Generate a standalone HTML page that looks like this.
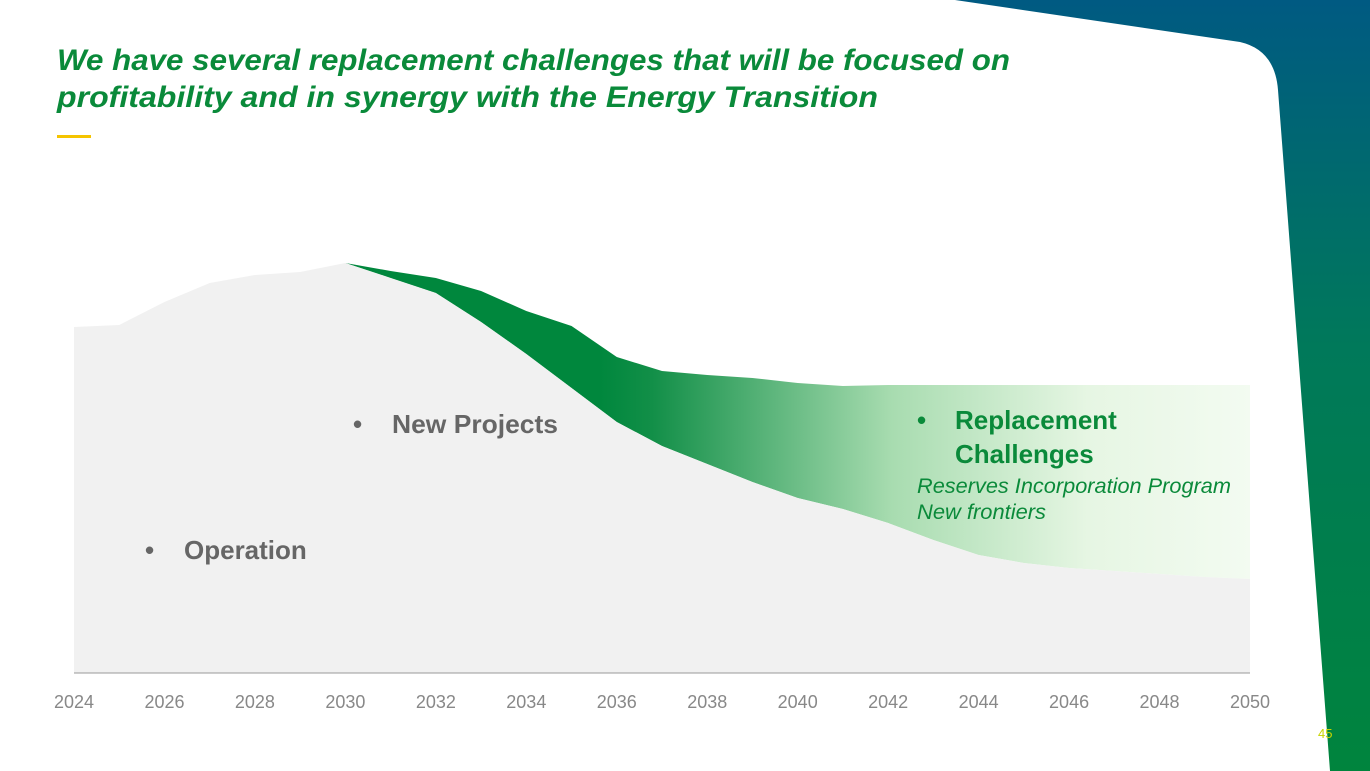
<!DOCTYPE html>
<html><head><meta charset="utf-8"><style>
body{margin:0;width:1370px;height:771px;overflow:hidden;background:#fff;font-family:"Liberation Sans",sans-serif}
svg{position:absolute;left:0;top:0}
</style></head><body>
<svg width="1370" height="771">
<defs>
<linearGradient id="bg" x1="0" y1="0" x2="0" y2="1">
<stop offset="0" stop-color="#005a82"/><stop offset="0.45" stop-color="#00795a"/><stop offset="1" stop-color="#00843d"/></linearGradient>
<linearGradient id="band" gradientUnits="userSpaceOnUse" x1="600" y1="0" x2="1250" y2="0">
<stop offset="0" stop-color="#00873d"/><stop offset="0.08" stop-color="#128f48"/><stop offset="0.45" stop-color="#a8dcb0"/><stop offset="0.75" stop-color="#e6f6e3"/><stop offset="1" stop-color="#f3fbf1"/></linearGradient>
</defs>
<rect x="0" y="0" width="1370" height="771" fill="url(#bg)"/>
<path d="M0,0 L955,0 L1240,42 Q1275,50 1278,90 L1330,771 L0,771 Z" fill="#fff"/>
<g id="chart"></g>
<text x="57" y="70" font-size="30" font-weight="bold" font-style="italic" fill="#0a8a3a" textLength="953" lengthAdjust="spacingAndGlyphs">We have several replacement challenges that will be focused on</text>
<text x="57" y="107" font-size="30" font-weight="bold" font-style="italic" fill="#0a8a3a" textLength="821" lengthAdjust="spacingAndGlyphs">profitability and in synergy with the Energy Transition</text>
<rect x="57" y="135" width="34" height="3" fill="#f5c400"/>
<text x="145" y="559" font-size="26" font-weight="bold" fill="#666">•</text>
<text x="184" y="559" font-size="26" font-weight="bold" fill="#666">Operation</text>
<text x="353" y="433" font-size="26" font-weight="bold" fill="#666">•</text>
<text x="392" y="433" font-size="26" font-weight="bold" fill="#666" textLength="166" lengthAdjust="spacingAndGlyphs">New Projects</text>
<text x="917" y="429" font-size="26" font-weight="bold" fill="#0a8a3a">•</text>
<text x="955" y="429" font-size="26" font-weight="bold" fill="#0a8a3a">Replacement</text>
<text x="955" y="463" font-size="26" font-weight="bold" fill="#0a8a3a">Challenges</text>
<text x="917" y="493" font-size="21" font-style="italic" fill="#0a8a3a" textLength="314" lengthAdjust="spacingAndGlyphs">Reserves Incorporation Program</text>
<text x="917" y="519" font-size="21" font-style="italic" fill="#0a8a3a" textLength="129" lengthAdjust="spacingAndGlyphs">New frontiers</text>
<text x="1318" y="738" font-size="13" fill="#c8d400">45</text>
</svg>
<script>
const years=[2024,2025,2026,2027,2028,2029,2030,2031,2032,2033,2034,2035,2036,2037,2038,2039,2040,2041,2042,2043,2044,2045,2046,2047,2048,2049,2050];
const operation=[346,348,371,390,398,401,410,395,380,351,319,285,251,227,209,191,175,164,150,133,118,110,105,102,99,96,94];
const total=[346,348,371,390,398,401,410,402,395,382,362,347,316,302,298,295,290,287,288,288,288,288,288,288,288,288,288];
const tickYears=[2024,2026,2028,2030,2032,2034,2036,2038,2040,2042,2044,2046,2048,2050];
const ns="http://www.w3.org/2000/svg";
const g=document.getElementById('chart');
const x=v=>74+(v-2024)*(1250-74)/26;
const y=v=>673-v;
function pts(arr){return arr.map((v,i)=>x(years[i])+','+y(v));}
const band=document.createElementNS(ns,'polygon');
band.setAttribute('points',pts(total).concat(pts(operation).reverse()).join(' '));
band.setAttribute('fill','url(#band)');


g.appendChild(band);
const op=document.createElementNS(ns,'polygon');
op.setAttribute('points',[x(2024)+','+y(0)].concat(pts(operation),[x(2050)+','+y(0)]).join(' '));
op.setAttribute('fill','#f1f1f1');


g.appendChild(op);
const ax=document.createElementNS(ns,'line');
ax.setAttribute('x1',x(2024));ax.setAttribute('x2',x(2050));ax.setAttribute('y1',y(0));ax.setAttribute('y2',y(0));
ax.setAttribute('stroke','#999');ax.setAttribute('stroke-width','1');


g.appendChild(ax);
tickYears.forEach(t=>{
const tx=document.createElementNS(ns,'text');
tx.setAttribute('x',x(t));tx.setAttribute('y',708);
tx.setAttribute('text-anchor','middle');tx.setAttribute('font-size','18');tx.setAttribute('fill','#888');
tx.textContent=t;


g.appendChild(tx);
});
</script>
</body></html>
